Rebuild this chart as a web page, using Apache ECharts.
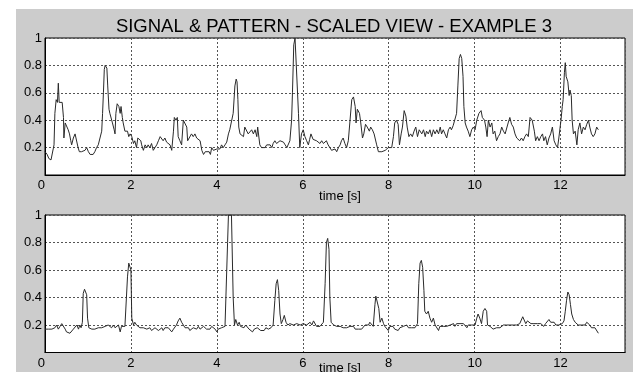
<!DOCTYPE html>
<html>
<head>
<meta charset="utf-8">
<script src="https://cdn.jsdelivr.net/npm/echarts@6/dist/echarts.min.js"></script>
<style>
  html, body { margin: 0; padding: 0; background: #fff; }
  #chart { position: absolute; left: 16px; top: 9px; width: 617px; height: 363px; }
</style>
</head>
<body>
<div id="chart"></div>
<script>
const titleText = 'SIGNAL & PATTERN - SCALED VIEW - EXAMPLE 3';
const axisName = 'time [s]';
const xMax = 13.5;
const xStep = 2;
const yStep = 0.2;

// upper plot: measured signal, [time s, value]
const signal = [
  [0,0.17],[0.02,0.17],[0.05,0.15],[0.09,0.12],[0.14,0.11],[0.18,0.12],[0.21,0.22],[0.23,0.45],[0.26,0.55],[0.29,0.53],
  [0.31,0.67],[0.33,0.53],[0.36,0.52],[0.40,0.53],[0.43,0.42],[0.44,0.27],[0.47,0.38],[0.50,0.38],[0.54,0.33],[0.57,0.30],
  [0.60,0.25],[0.62,0.22],[0.66,0.27],[0.70,0.30],[0.74,0.30],[0.77,0.20],[0.80,0.17],[0.85,0.17],[0.89,0.18],[0.93,0.18],
  [0.97,0.20],[1.01,0.17],[1.05,0.15],[1.09,0.16],[1.12,0.15],[1.16,0.17],[1.20,0.20],[1.24,0.22],[1.28,0.27],[1.32,0.32],
  [1.34,0.45],[1.36,0.60],[1.38,0.77],[1.40,0.80],[1.44,0.78],[1.46,0.65],[1.49,0.48],[1.51,0.45],[1.54,0.45],[1.57,0.38],
  [1.61,0.33],[1.63,0.30],[1.65,0.45],[1.68,0.52],[1.72,0.50],[1.75,0.45],[1.77,0.50],[1.80,0.42],[1.82,0.38],[1.86,0.32],
  [1.89,0.33],[1.92,0.32],[1.95,0.28],[1.98,0.30],[2.02,0.28],[2.06,0.23],[2.09,0.25],[2.13,0.20],[2.16,0.27],[2.20,0.28],
  [2.23,0.25],[2.25,0.22],[2.29,0.18],[2.33,0.22],[2.37,0.20],[2.40,0.22],[2.44,0.20],[2.48,0.23],[2.52,0.18],[2.56,0.20],
  [2.60,0.22],[2.64,0.25],[2.68,0.28],[2.72,0.27],[2.75,0.25],[2.79,0.27],[2.83,0.24],[2.87,0.25],[2.91,0.22],[2.95,0.18],
  [2.99,0.32],[3.01,0.42],[3.05,0.40],[3.08,0.42],[3.10,0.28],[3.14,0.25],[3.18,0.22],[3.22,0.40],[3.26,0.40],[3.30,0.35],
  [3.32,0.25],[3.36,0.24],[3.41,0.30],[3.45,0.28],[3.49,0.30],[3.53,0.27],[3.57,0.28],[3.61,0.25],[3.65,0.18],[3.69,0.15],
  [3.73,0.17],[3.77,0.18],[3.82,0.17],[3.85,0.15],[3.88,0.20],[3.92,0.18],[3.96,0.17],[4.00,0.19],[4.03,0.20],[4.07,0.19],
  [4.11,0.22],[4.15,0.20],[4.19,0.22],[4.23,0.24],[4.27,0.30],[4.30,0.33],[4.34,0.32],[4.38,0.45],[4.42,0.65],[4.45,0.70],
  [4.47,0.68],[4.49,0.55],[4.51,0.35],[4.54,0.30],[4.58,0.31],[4.62,0.28],[4.65,0.35],[4.69,0.35],[4.73,0.30],[4.77,0.31],
  [4.81,0.33],[4.85,0.30],[4.89,0.33],[4.93,0.28],[4.95,0.35],[5.00,0.22],[5.04,0.20],[5.08,0.21],[5.12,0.20],[5.16,0.22],
  [5.20,0.21],[5.24,0.22],[5.28,0.20],[5.31,0.23],[5.35,0.25],[5.39,0.23],[5.43,0.22],[5.47,0.25],[5.51,0.26],[5.55,0.24],
  [5.59,0.22],[5.63,0.20],[5.67,0.20],[5.70,0.25],[5.74,0.40],[5.76,0.60],[5.79,0.95],[5.82,1.00],[5.86,1.00],[5.90,0.45],
  [5.93,0.20],[5.97,0.30],[6.01,0.33],[6.05,0.28],[6.09,0.25],[6.13,0.22],[6.16,0.26],[6.19,0.30],[6.24,0.26],[6.28,0.27],
  [6.32,0.25],[6.36,0.26],[6.40,0.23],[6.44,0.25],[6.48,0.23],[6.52,0.22],[6.55,0.25],[6.59,0.22],[6.63,0.20],[6.67,0.18],
  [6.71,0.18],[6.75,0.19],[6.79,0.17],[6.83,0.20],[6.87,0.22],[6.90,0.25],[6.94,0.27],[6.98,0.23],[7.02,0.20],[7.06,0.25],
  [7.10,0.40],[7.14,0.55],[7.18,0.57],[7.22,0.50],[7.24,0.38],[7.27,0.48],[7.32,0.45],[7.35,0.38],[7.39,0.27],[7.42,0.30],
  [7.46,0.37],[7.50,0.35],[7.55,0.32],[7.58,0.35],[7.62,0.33],[7.66,0.30],[7.69,0.30],[7.72,0.22],[7.76,0.17],[7.80,0.18],
  [7.84,0.17],[7.88,0.17],[7.92,0.18],[7.95,0.18],[7.99,0.20],[8.03,0.19],[8.07,0.20],[8.11,0.28],[8.14,0.38],[8.18,0.40],
  [8.22,0.37],[8.25,0.22],[8.29,0.30],[8.32,0.35],[8.36,0.47],[8.40,0.43],[8.43,0.35],[8.47,0.28],[8.51,0.30],[8.55,0.28],
  [8.59,0.32],[8.63,0.35],[8.67,0.28],[8.71,0.33],[8.77,0.30],[8.81,0.33],[8.85,0.28],[8.88,0.32],[8.92,0.30],[8.96,0.33],
  [9.00,0.28],[9.04,0.33],[9.08,0.30],[9.12,0.33],[9.16,0.30],[9.20,0.35],[9.23,0.30],[9.27,0.33],[9.31,0.30],[9.35,0.27],
  [9.39,0.33],[9.43,0.35],[9.46,0.33],[9.50,0.36],[9.54,0.37],[9.58,0.45],[9.61,0.65],[9.64,0.85],[9.67,0.88],[9.70,0.85],
  [9.73,0.72],[9.75,0.50],[9.78,0.38],[9.81,0.35],[9.85,0.32],[9.89,0.28],[9.93,0.33],[9.97,0.35],[10.01,0.33],[10.05,0.40],
  [10.10,0.45],[10.15,0.47],[10.18,0.42],[10.23,0.40],[10.26,0.35],[10.29,0.28],[10.32,0.40],[10.36,0.35],[10.40,0.38],[10.43,0.30],
  [10.47,0.32],[10.51,0.25],[10.55,0.28],[10.59,0.30],[10.63,0.35],[10.67,0.32],[10.71,0.30],[10.74,0.30],[10.78,0.38],[10.82,0.42],
  [10.86,0.37],[10.90,0.35],[10.94,0.30],[10.98,0.27],[11.02,0.28],[11.05,0.25],[11.09,0.27],[11.13,0.25],[11.17,0.28],[11.21,0.30],
  [11.25,0.28],[11.29,0.42],[11.34,0.40],[11.39,0.32],[11.42,0.25],[11.46,0.28],[11.50,0.25],[11.54,0.28],[11.58,0.30],[11.61,0.25],
  [11.65,0.28],[11.69,0.22],[11.73,0.27],[11.77,0.30],[11.81,0.35],[11.85,0.25],[11.89,0.22],[11.93,0.20],[11.96,0.27],[11.99,0.35],
  [12.01,0.40],[12.04,0.50],[12.06,0.55],[12.09,0.75],[12.11,0.82],[12.13,0.72],[12.17,0.68],[12.20,0.58],[12.22,0.62],[12.25,0.58],
  [12.27,0.40],[12.30,0.30],[12.34,0.32],[12.38,0.22],[12.41,0.33],[12.45,0.38],[12.49,0.30],[12.53,0.35],[12.57,0.33],[12.61,0.37],
  [12.65,0.40],[12.68,0.35],[12.72,0.30],[12.76,0.28],[12.80,0.30],[12.84,0.35],[12.88,0.33]
];

// lower plot: pattern, [time s, value]
const pattern = [
  [0,0.17],[0.04,0.18],[0.08,0.17],[0.12,0.18],[0.16,0.17],[0.19,0.18],[0.23,0.18],[0.27,0.20],[0.31,0.17],[0.35,0.19],
  [0.39,0.21],[0.43,0.20],[0.47,0.17],[0.50,0.15],[0.54,0.16],[0.58,0.14],[0.62,0.15],[0.66,0.17],[0.70,0.18],[0.74,0.20],
  [0.78,0.17],[0.81,0.20],[0.84,0.18],[0.87,0.22],[0.89,0.43],[0.92,0.46],[0.95,0.46],[0.97,0.42],[0.99,0.25],[1.02,0.18],
  [1.06,0.18],[1.09,0.17],[1.12,0.18],[1.16,0.17],[1.20,0.16],[1.24,0.18],[1.28,0.17],[1.32,0.18],[1.36,0.17],[1.40,0.19],
  [1.44,0.18],[1.47,0.20],[1.51,0.19],[1.55,0.18],[1.59,0.20],[1.63,0.18],[1.67,0.19],[1.71,0.20],[1.75,0.15],[1.78,0.19],
  [1.82,0.20],[1.86,0.19],[1.90,0.20],[1.92,0.55],[1.95,0.65],[1.98,0.66],[2.00,0.60],[2.02,0.25],[2.06,0.20],[2.09,0.22],
  [2.13,0.20],[2.17,0.19],[2.21,0.18],[2.25,0.19],[2.29,0.18],[2.33,0.17],[2.37,0.17],[2.41,0.18],[2.44,0.18],[2.48,0.16],
  [2.52,0.17],[2.56,0.18],[2.60,0.18],[2.64,0.16],[2.68,0.17],[2.72,0.18],[2.75,0.16],[2.79,0.18],[2.83,0.17],[2.87,0.18],
  [2.91,0.17],[2.95,0.15],[2.99,0.17],[3.03,0.16],[3.06,0.20],[3.10,0.23],[3.14,0.25],[3.18,0.22],[3.22,0.20],[3.26,0.18],
  [3.30,0.17],[3.34,0.18],[3.37,0.16],[3.41,0.17],[3.45,0.18],[3.49,0.18],[3.53,0.17],[3.57,0.19],[3.61,0.17],[3.65,0.18],
  [3.69,0.19],[3.72,0.20],[3.76,0.17],[3.80,0.18],[3.84,0.17],[3.88,0.19],[3.92,0.18],[3.96,0.17],[4.00,0.15],[4.03,0.17],
  [4.07,0.16],[4.11,0.18],[4.15,0.18],[4.19,0.19],[4.23,0.20],[4.25,0.80],[4.27,1.00],[4.34,1.00],[4.37,1.00],[4.38,0.40],
  [4.41,0.20],[4.44,0.24],[4.48,0.20],[4.52,0.22],[4.55,0.19],[4.59,0.20],[4.63,0.18],[4.67,0.20],[4.71,0.19],[4.75,0.17],
  [4.79,0.16],[4.83,0.15],[4.87,0.17],[4.91,0.16],[4.94,0.18],[4.98,0.17],[5.02,0.16],[5.06,0.17],[5.10,0.16],[5.14,0.18],
  [5.20,0.17],[5.26,0.18],[5.31,0.20],[5.35,0.38],[5.38,0.50],[5.41,0.53],[5.44,0.45],[5.47,0.28],[5.50,0.21],[5.54,0.24],
  [5.57,0.27],[5.61,0.22],[5.65,0.20],[5.70,0.21],[5.74,0.20],[5.78,0.20],[5.82,0.19],[5.86,0.21],[5.90,0.20],[5.94,0.20],
  [5.98,0.19],[6.01,0.21],[6.05,0.20],[6.09,0.20],[6.13,0.21],[6.17,0.22],[6.21,0.20],[6.25,0.23],[6.29,0.22],[6.32,0.19],
  [6.36,0.18],[6.40,0.19],[6.44,0.20],[6.48,0.22],[6.52,0.50],[6.55,0.80],[6.58,0.83],[6.61,0.75],[6.63,0.40],[6.66,0.22],
  [6.69,0.21],[6.72,0.20],[6.75,0.21],[6.79,0.19],[6.83,0.20],[6.87,0.19],[6.90,0.20],[6.94,0.18],[6.98,0.17],[7.02,0.18],
  [7.06,0.17],[7.10,0.19],[7.14,0.18],[7.18,0.19],[7.22,0.17],[7.26,0.18],[7.30,0.17],[7.33,0.16],[7.37,0.17],[7.41,0.18],
  [7.45,0.20],[7.49,0.19],[7.53,0.20],[7.56,0.22],[7.60,0.21],[7.64,0.19],[7.68,0.35],[7.70,0.41],[7.73,0.40],[7.77,0.32],
  [7.80,0.22],[7.84,0.25],[7.88,0.21],[7.91,0.19],[7.95,0.20],[7.99,0.16],[8.03,0.19],[8.07,0.18],[8.10,0.19],[8.14,0.17],
  [8.18,0.18],[8.22,0.16],[8.26,0.18],[8.30,0.17],[8.34,0.19],[8.38,0.18],[8.42,0.20],[8.46,0.18],[8.50,0.19],[8.53,0.18],
  [8.57,0.19],[8.61,0.18],[8.65,0.19],[8.67,0.21],[8.70,0.50],[8.73,0.65],[8.76,0.67],[8.79,0.62],[8.82,0.45],[8.84,0.30],
  [8.88,0.28],[8.92,0.30],[8.96,0.25],[9.00,0.22],[9.04,0.25],[9.08,0.20],[9.12,0.21],[9.16,0.16],[9.19,0.19],[9.23,0.18],
  [9.27,0.19],[9.31,0.18],[9.35,0.19],[9.39,0.18],[9.43,0.20],[9.47,0.19],[9.51,0.21],[9.54,0.19],[9.58,0.21],[9.62,0.20],
  [9.66,0.21],[9.70,0.20],[9.74,0.21],[9.78,0.20],[9.82,0.18],[9.85,0.20],[9.89,0.19],[9.93,0.20],[9.97,0.19],[10.01,0.20],
  [10.05,0.25],[10.08,0.28],[10.12,0.25],[10.16,0.21],[10.20,0.30],[10.24,0.32],[10.28,0.30],[10.30,0.20],[10.36,0.19],[10.40,0.18],
  [10.43,0.17],[10.47,0.16],[10.51,0.18],[10.55,0.19],[10.59,0.18],[10.63,0.19],[10.67,0.20],[10.71,0.19],[10.74,0.20],[10.78,0.19],
  [10.82,0.20],[10.86,0.19],[10.90,0.20],[10.94,0.19],[10.98,0.20],[11.02,0.19],[11.05,0.21],[11.09,0.21],[11.12,0.26],[11.16,0.25],
  [11.19,0.21],[11.23,0.23],[11.27,0.22],[11.31,0.21],[11.35,0.20],[11.38,0.21],[11.42,0.20],[11.46,0.21],[11.50,0.20],[11.54,0.21],
  [11.58,0.20],[11.61,0.19],[11.65,0.21],[11.69,0.22],[11.73,0.24],[11.77,0.22],[11.81,0.21],[11.85,0.22],[11.89,0.20],[11.93,0.19],
  [11.96,0.20],[12.00,0.19],[12.04,0.21],[12.08,0.23],[12.11,0.30],[12.14,0.38],[12.17,0.44],[12.20,0.42],[12.23,0.35],[12.26,0.28],
  [12.30,0.24],[12.34,0.22],[12.38,0.21],[12.41,0.20],[12.45,0.21],[12.49,0.20],[12.53,0.21],[12.57,0.20],[12.61,0.22],[12.65,0.21],
  [12.68,0.20],[12.72,0.18],[12.76,0.19],[12.80,0.18],[12.84,0.19],[12.88,0.14]
];

const font = 'Liberation Sans, Arial, sans-serif';
const gridLine = { show: true, lineStyle: { color: '#555', type: [2, 2], width: 1 } };

function makeX(idx, gap) {
  return {
    type: 'value', gridIndex: idx, min: 0, max: xMax, interval: xStep,
    name: axisName, nameLocation: 'middle', nameGap: gap, nameMoveOverlap: false,
    nameTextStyle: { fontFamily: font, fontSize: 13, color: '#000', padding: [0, 0, 0, 10] },
    axisLine: { show: true, onZero: false, lineStyle: { color: '#000', width: 1 } },
    axisTick: { show: false },
    axisLabel: {
      show: true, margin: 4, fontFamily: font, fontSize: 13, color: '#000',
      showMaxLabel: false, alignMinLabel: 'right'
    },
    splitLine: gridLine
  };
}

function makeY(idx) {
  return {
    type: 'value', gridIndex: idx, min: 0, max: 1, interval: yStep,
    axisLine: { show: true, lineStyle: { color: '#000', width: 1 } },
    axisTick: { show: false },
    axisLabel: { show: true, margin: 3, fontFamily: font, fontSize: 13, color: '#000', showMinLabel: false },
    splitLine: gridLine
  };
}

function makeSeries(idx, data) {
  return {
    type: 'line', xAxisIndex: idx, yAxisIndex: idx, data: data,
    showSymbol: false, clip: true,
    lineStyle: { color: '#2a2a2a', width: 1 }
  };
}

const chart = echarts.init(document.getElementById('chart'), null, { renderer: 'canvas' });
chart.setOption({
  backgroundColor: '#cccccc',
  animation: false,
  title: {
    text: titleText, left: 313, top: 3, textAlign: 'center',
    textStyle: { fontFamily: font, fontSize: 18.5, fontWeight: 'normal', color: '#000' }
  },
  grid: [
    { left: 29, top: 29, width: 580, height: 137, show: true, backgroundColor: '#fff', borderColor: '#000', borderWidth: 1, outerBoundsMode: 'none' },
    { left: 29, top: 206, width: 580, height: 137.5, show: true, backgroundColor: '#fff', borderColor: '#000', borderWidth: 1, outerBoundsMode: 'none' }
  ],
  xAxis: [makeX(0, 15), makeX(1, 9)],
  yAxis: [makeY(0), makeY(1)],
  series: [makeSeries(0, signal), makeSeries(1, pattern)]
});
</script>
</body>
</html>
